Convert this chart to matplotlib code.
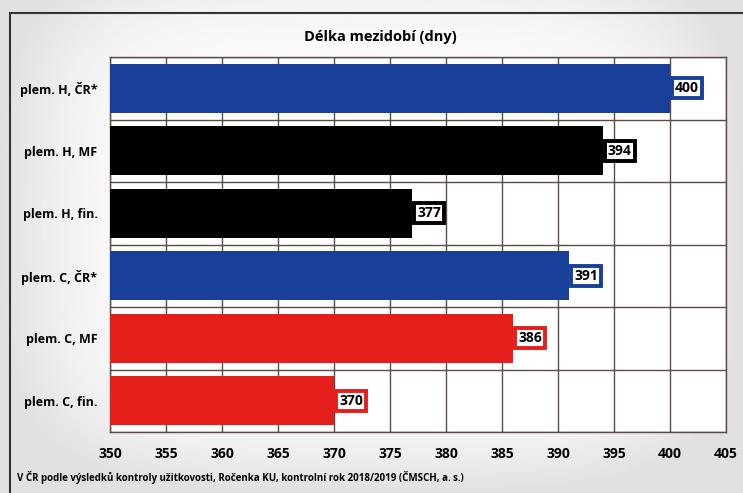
import numpy as np
import matplotlib
matplotlib.use('Agg')
import matplotlib.pyplot as plt
from matplotlib.patches import Rectangle

# data
categories = ["plem. H, ČR*", "plem. H, MF", "plem. H, fin.",
              "plem. C, ČR*", "plem. C, MF", "plem. C, fin."]
values = [400, 394, 377, 391, 386, 370]
colors = ["#18409a", "#000000", "#000000", "#18409a", "#e41f1b", "#e41f1b"]
xticks = [350, 355, 360, 365, 370, 375, 380, 385, 390, 395, 400, 405]

plt.rcParams['font.family'] = ['Open Sans', 'DejaVu Sans']
plt.rcParams['font.weight'] = 'bold'

fig = plt.figure(figsize=(7.43, 4.93), dpi=100)
fig.patch.set_facecolor('white')

# background with a soft gradient
bg = fig.add_axes([0, 0, 1, 1], zorder=-10)
yy, xx = np.mgrid[0:1:200j, 0:1:300j]
grad = 1 - 0.12 * np.clip(((xx - 0.5) / 0.5) ** 4 + ((yy - 0.45) / 0.55) ** 4, 0, 1)
bg.imshow(grad, cmap='gray', vmin=0, vmax=1, extent=[0, 1, 0, 1], aspect='auto')
bg.add_patch(Rectangle((10 / 743, -0.1), 1.1, 1 - 13 / 493 + 0.1, fill=False,
                       edgecolor='#333333', linewidth=1.5, transform=bg.transAxes))
bg.set_xlim(0, 1)
bg.set_ylim(0, 1)
bg.axis('off')

ax = fig.add_axes([110 / 743, 1 - 432 / 493, 616 / 743, 375 / 493])
ax.set_facecolor('white')
y = np.arange(len(categories))
ax.barh(y, [v - 350 for v in values], left=350, height=0.79, color=colors, zorder=3)

for yi, v, c in zip(y, values, colors):
    ax.text(v + 0.45, yi, str(v), ha='left', va='center', fontsize=10,
            fontweight='bold', color='black', zorder=4,
            bbox=dict(boxstyle='square,pad=0.22', facecolor='white',
                      edgecolor=c, linewidth=2.8))

ax.set_xlim(350, 405)
ax.set_ylim(len(categories) - 0.5, -0.5)
ax.set_xticks(xticks)
ax.set_yticks(y)
ax.set_yticklabels(categories)
ax.set_yticks(np.arange(-0.5, len(categories), 1), minor=True)
ax.grid(axis='x', color='#5a4a4a', linewidth=1.0, zorder=0)
ax.grid(axis='y', which='minor', color='#5a4a4a', linewidth=1.0, zorder=0)
ax.tick_params(axis='both', which='both', length=0)
ax.tick_params(axis='x', pad=11, labelsize=10)
ax.tick_params(axis='y', pad=9, labelsize=9)
for s in ax.spines.values():
    s.set_color('#5a4a4a')
    s.set_linewidth(1.0)

fig.text(380 / 743, 1 - 37 / 493, "Délka mezidobí (dny)", ha='center', va='center',
         fontsize=10.5, fontweight='bold')
fig.text(17 / 743, 1 - 478 / 493,
         "V ČR podle výsledků kontroly užitkovosti, Ročenka KU, kontrolní rok 2018/2019 (ČMSCH, a. s.)",
         ha='left', va='center', fontsize=7, fontweight='bold')

fig.savefig('out.png', dpi=100)
